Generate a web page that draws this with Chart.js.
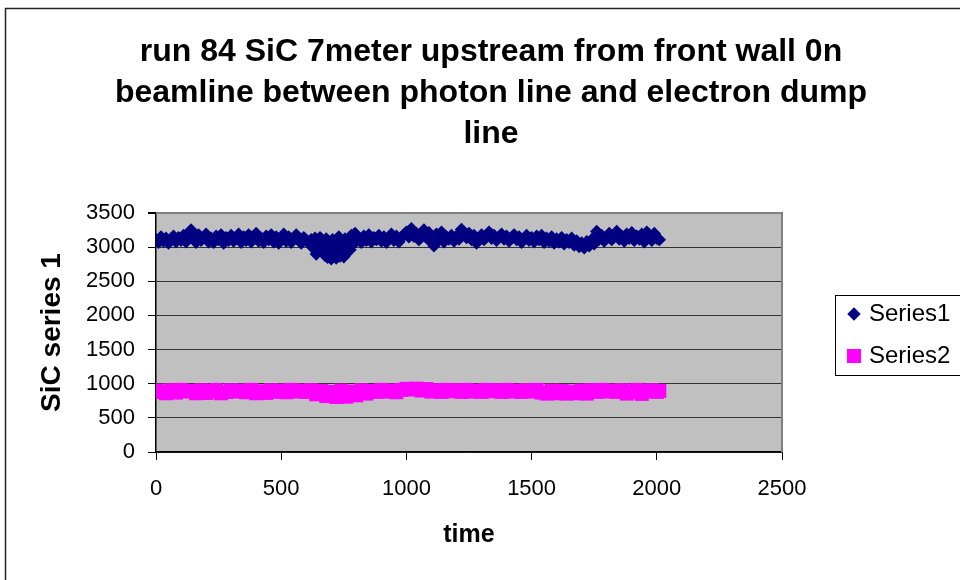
<!DOCTYPE html>
<html>
<head>
<meta charset="utf-8">
<title>run 84 SiC</title>
<script src="https://cdn.jsdelivr.net/npm/chart.js@4.4.1/dist/chart.umd.min.js"></script>
<style>
  html, body { margin: 0; padding: 0; background: #fff; }
  #wrap { width: 960px; height: 580px; }
</style>
</head>
<body>
<div id="wrap"><canvas id="sicChart" width="960" height="580"></canvas></div>
<script>
// time stamps and readings for series 1 (SiC detector)
const time1 = [
  0, 10, 20, 30, 40, 50, 60, 70, 80, 90,
  100, 110, 120, 130, 140, 150, 160, 170, 180, 190,
  200, 210, 220, 230, 240, 250, 260, 270, 280, 290,
  300, 310, 320, 330, 340, 350, 360, 370, 380, 390,
  400, 410, 420, 430, 440, 450, 460, 470, 480, 490,
  500, 510, 520, 530, 540, 550, 560, 570, 580, 590,
  600, 610, 620, 625, 630, 635, 640, 645, 650, 655,
  660, 665, 670, 675, 680, 685, 690, 695, 700, 705,
  710, 715, 720, 725, 730, 735, 740, 745, 750, 755,
  760, 765, 770, 775, 780, 785, 790, 795, 800, 810,
  820, 830, 840, 850, 860, 870, 880, 890, 900, 910,
  920, 930, 940, 950, 960, 970, 980, 990, 1000, 1010,
  1020, 1030, 1040, 1050, 1060, 1070, 1080, 1090, 1100, 1110,
  1120, 1130, 1140, 1150, 1160, 1170, 1180, 1190, 1200, 1210,
  1220, 1230, 1240, 1250, 1260, 1270, 1280, 1290, 1300, 1310,
  1320, 1330, 1340, 1350, 1360, 1370, 1380, 1390, 1400, 1410,
  1420, 1430, 1440, 1450, 1460, 1470, 1480, 1490, 1500, 1510,
  1520, 1530, 1540, 1550, 1560, 1570, 1580, 1590, 1600, 1610,
  1620, 1630, 1640, 1650, 1660, 1670, 1680, 1690, 1700, 1710,
  1720, 1730, 1740, 1750, 1760, 1770, 1780, 1790, 1800, 1810,
  1820, 1830, 1840, 1850, 1860, 1870, 1880, 1890, 1900, 1910,
  1920, 1930, 1940, 1950, 1960, 1970, 1980, 1990, 2000, 2010
];
const series1 = [
  3110, 3070, 3150, 3090, 3130, 3060, 3120, 3160, 3080, 3140,
  3100, 3170, 3080, 3150, 3250, 3160, 3070, 3180, 3100, 3140,
  3190, 3080, 3130, 3070, 3160, 3110, 3180, 3060, 3140, 3100,
  3170, 3090, 3130, 3190, 3070, 3150, 3100, 3180, 3080, 3140,
  3200, 3090, 3130, 3070, 3160, 3110, 3180, 3080, 3150, 3060,
  3130, 3190, 3090, 3150, 3070, 3120, 3180, 3100, 3060, 3140,
  3100, 3060, 3110, 3050, 2980, 3130, 2900, 2960, 3080, 3140,
  3020, 3100, 2960, 2880, 3120, 2850, 2930, 3040, 2830, 3110,
  2900, 2980, 2840, 3070, 3150, 2870, 2950, 3020, 2860, 3120,
  2920, 3000, 3080, 2960, 3170, 3040, 3110, 3200, 3090, 3130,
  3070, 3160, 3100, 3180, 3080, 3140, 3110, 3170, 3090, 3150,
  3070, 3130, 3190, 3100, 3160, 3080, 3140, 3180, 3220, 3150,
  3270, 3160, 3200, 3110, 3180, 3250, 3140, 3210, 3070, 3020,
  3190, 3110, 3220, 3080, 3150, 3120, 3170, 3090, 3160, 3120,
  3260, 3180, 3140, 3200, 3110, 3170, 3060, 3130, 3180, 3110,
  3160, 3220, 3130, 3170, 3100, 3150, 3190, 3120, 3160, 3090,
  3140, 3180, 3110, 3150, 3070, 3130, 3170, 3100, 3140, 3080,
  3160, 3110, 3170, 3070, 3130, 3090, 3150, 3060, 3120, 3080,
  3140, 3050, 3110, 3070, 3130, 3030, 3090, 3010, 3060, 2990,
  3080, 3020, 3110, 3050, 3230, 3120, 3170, 3090, 3150, 3200,
  3110, 3170, 3230, 3120, 3160, 3090, 3190, 3130, 3210, 3100,
  3160, 3120, 3190, 3080, 3220, 3140, 3100, 3200, 3130, 3110
];

// time stamps and readings for series 2
const time2 = [
  0, 20, 40, 60, 80, 100, 120, 140, 160, 180,
  200, 220, 240, 260, 280, 300, 320, 340, 360, 380,
  400, 420, 440, 460, 480, 500, 520, 540, 560, 580,
  600, 620, 640, 660, 680, 700, 720, 740, 760, 780,
  800, 820, 840, 860, 880, 900, 920, 940, 960, 980,
  1000, 1020, 1040, 1060, 1080, 1100, 1120, 1140, 1160, 1180,
  1200, 1220, 1240, 1260, 1280, 1300, 1320, 1340, 1360, 1380,
  1400, 1420, 1440, 1460, 1480, 1500, 1520, 1540, 1560, 1580,
  1600, 1620, 1640, 1660, 1680, 1700, 1720, 1740, 1760, 1780,
  1800, 1820, 1840, 1860, 1880, 1900, 1920, 1940, 1960, 1980,
  2000, 2010
];
const series2 = [
  900, 880, 860, 905, 870, 910, 885, 895, 860, 905,
  865, 890, 910, 860, 880, 905, 885, 900, 875, 910,
  860, 890, 865, 905, 880, 900, 875, 910, 885, 900,
  880, 905, 845, 895, 820, 880, 805, 900, 810, 885,
  830, 905, 855, 895, 880, 910, 885, 900, 875, 910,
  925, 915, 928, 900, 922, 885, 905, 880, 910, 890,
  905, 880, 910, 885, 900, 880, 910, 890, 905, 880,
  910, 885, 900, 880, 905, 885, 910, 870, 855, 900,
  860, 895, 855, 885, 860, 900, 855, 905, 880, 910,
  885, 900, 880, 905, 855, 885, 910, 850, 890, 905,
  880, 895
];

const xTicks = [0, 500, 1000, 1500, 2000, 2500];
const yTicks = [0, 500, 1000, 1500, 2000, 2500, 3000, 3500];

const titleLines = [
  'run 84 SiC 7meter upstream from front wall 0n',
  'beamline between photon line and electron dump',
  'line'
];
const seriesNames = ['Series1', 'Series2'];
const seriesColors = ['#000080', '#FF00FF'];

const FONT = "'Liberation Sans', Arial, Helvetica, sans-serif";
Chart.defaults.font.family = FONT;
Chart.defaults.color = '#000';

function toPoints(xs, ys) {
  return xs.map((x, i) => ({ x: x, y: ys[i] }));
}

// gray plot area, outer frame, title block and boxed legend
const excelLook = {
  id: 'excelLook',
  beforeDraw(chart) {
    const { ctx, chartArea: a } = chart;
    ctx.save();
    ctx.fillStyle = '#C0C0C0';
    ctx.fillRect(a.left, a.top, a.right - a.left, a.bottom - a.top);
    ctx.restore();
  },
  beforeDatasetsDraw(chart) {
    const { ctx, chartArea: a } = chart;
    ctx.save();
    ctx.strokeStyle = '#808080';
    ctx.lineWidth = 2;
    ctx.beginPath();
    ctx.moveTo(a.left, a.top);
    ctx.lineTo(a.right, a.top);
    ctx.lineTo(a.right, a.bottom);
    ctx.stroke();
    ctx.restore();
  },
  afterDraw(chart) {
    const ctx = chart.ctx;
    ctx.save();

    // outer frame
    ctx.strokeStyle = '#222';
    ctx.lineWidth = 1.5;
    ctx.strokeRect(5.5, 8.5, 1000, 1000);

    // title
    ctx.fillStyle = '#000';
    ctx.font = 'bold 32px ' + FONT;
    ctx.textAlign = 'center';
    ctx.textBaseline = 'alphabetic';
    titleLines.forEach((line, i) => ctx.fillText(line, 491, 61 + i * 41));

    // legend
    ctx.strokeStyle = '#000';
    ctx.lineWidth = 1;
    ctx.strokeRect(835.5, 295.5, 140, 80);
    ctx.fillStyle = seriesColors[0];
    ctx.beginPath();
    ctx.moveTo(854, 307.3);
    ctx.lineTo(860.7, 314);
    ctx.lineTo(854, 320.7);
    ctx.lineTo(847.3, 314);
    ctx.closePath();
    ctx.fill();
    ctx.fillStyle = seriesColors[1];
    ctx.fillRect(847, 349, 14, 14);
    ctx.fillStyle = '#000';
    ctx.font = '24px ' + FONT;
    ctx.textAlign = 'left';
    ctx.textBaseline = 'middle';
    ctx.fillText(seriesNames[0], 869, 314);
    ctx.fillText(seriesNames[1], 869, 356);
    ctx.restore();
  }
};

new Chart(document.getElementById('sicChart').getContext('2d'), {
  type: 'scatter',
  data: {
    datasets: [
      {
        label: seriesNames[0],
        data: toPoints(time1, series1),
        pointStyle: 'rectRot',
        pointRadius: 6.7,
        borderWidth: 0,
        backgroundColor: seriesColors[0],
        borderColor: seriesColors[0]
      },
      {
        label: seriesNames[1],
        data: toPoints(time2, series2),
        pointStyle: 'rect',
        pointRadius: 9.9,
        borderWidth: 0,
        backgroundColor: seriesColors[1],
        borderColor: seriesColors[1]
      }
    ]
  },
  options: {
    responsive: false,
    animation: false,
    events: [],
    layout: { padding: { top: 213, right: 178, left: 0, bottom: 0 } },
    plugins: {
      legend: { display: false },
      title: { display: false },
      tooltip: { enabled: false }
    },
    scales: {
      x: {
        type: 'linear',
        min: 0,
        max: 2500,
        afterFit(scale) { scale.height = 128; },
        afterBuildTicks(scale) { scale.ticks = xTicks.map(v => ({ value: v })); },
        ticks: { font: { size: 22 }, padding: 16, maxRotation: 0, callback: v => String(v) },
        grid: { drawOnChartArea: false, drawTicks: true, tickLength: 8, tickColor: '#000' },
        border: { display: true, color: '#000', width: 1.5 },
        title: {
          display: true,
          text: 'time',
          font: { size: 25, weight: 'bold' },
          padding: { top: 0, bottom: 30 }
        }
      },
      y: {
        min: 0,
        max: 3500,
        afterFit(scale) { scale.width = 156; },
        afterBuildTicks(scale) { scale.ticks = yTicks.map(v => ({ value: v })); },
        ticks: { font: { size: 22 }, padding: 13, callback: v => String(v) },
        grid: {
          color: ctx => (ctx.tick && ctx.tick.value === 3500 ? '#808080' : '#333'),
          lineWidth: ctx => (ctx.tick && ctx.tick.value === 3500 ? 2 : 1),
          drawTicks: true,
          tickLength: 8,
          tickColor: '#000'
        },
        border: { display: true, color: '#000', width: 1.5 },
        title: {
          display: true,
          text: 'SiC series 1',
          font: { size: 28, weight: 'bold' },
          padding: { top: 35, bottom: 0 }
        }
      }
    }
  },
  plugins: [excelLook]
});
</script>
</body>
</html>
